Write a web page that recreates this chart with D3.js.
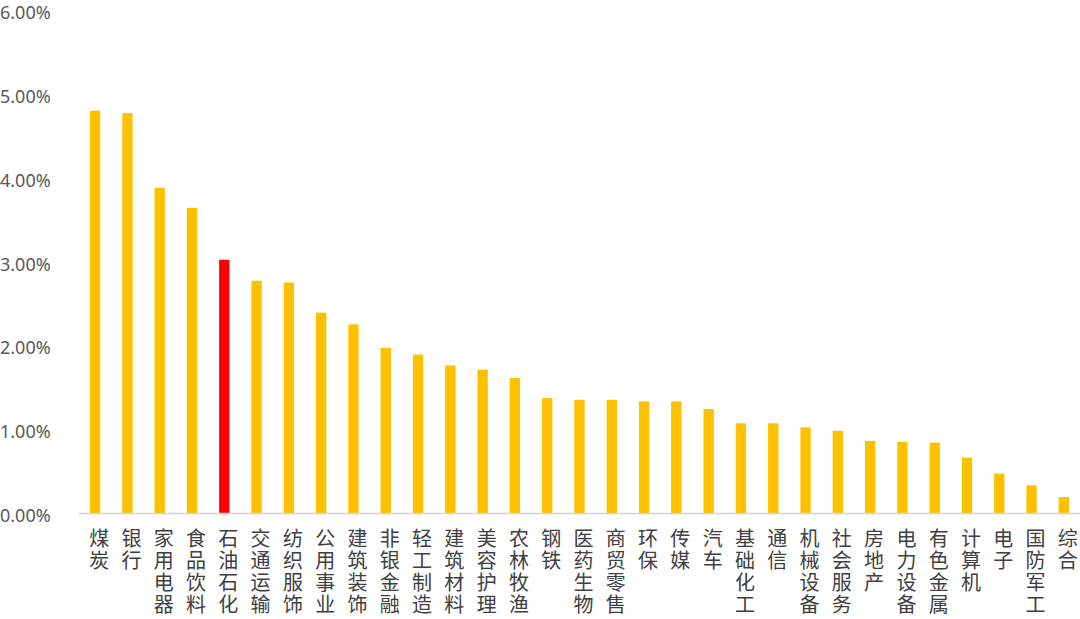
<!DOCTYPE html>
<html>
<head>
<meta charset="utf-8">
<script src="https://cdn.jsdelivr.net/npm/d3@7/dist/d3.min.js"></script>
<style>
  html, body { margin: 0; padding: 0; background: #fff; }
  svg { display: block; }
</style>
</head>
<body>
<svg class="chart"></svg>
<script>
var categories = ["煤炭","银行","家用电器","食品饮料","石油石化","交通运输","纺织服饰","公用事业","建筑装饰","非银金融",
    "轻工制造","建筑材料","美容护理","农林牧渔","钢铁","医药生物","商贸零售","环保","传媒","汽车",
    "基础化工","通信","机械设备","社会服务","房地产","电力设备","有色金属","计算机","电子","国防军工","综合"];
var values = [4.80, 4.77, 3.88, 3.64, 3.02, 2.77, 2.75, 2.39, 2.25, 1.97,
    1.89, 1.76, 1.71, 1.61, 1.37, 1.35, 1.35, 1.33, 1.33, 1.24,
    1.07, 1.07, 1.02, 0.98, 0.86, 0.85, 0.84, 0.66, 0.47, 0.33, 0.19];
var highlight = "石油石化";
var yTicks = [0, 1, 2, 3, 4, 5, 6];

var width = 1080, height = 619;
var data = categories.map(function (c, i) { return { name: c, value: values[i] }; });

var x = d3.scaleBand().domain(categories).range([79, 1080]).paddingInner(0.68).paddingOuter(0.34);
var y = d3.scaleLinear().domain([0, 6]).range([513, 10]);

var svg = d3.select(".chart")
    .attr("width", width)
    .attr("height", height);

// y labels
svg.append("g")
    .selectAll("text")
    .data(yTicks)
    .enter()
    .append("text")
    .attr("x", 0)
    .attr("y", function (d) { return y(d) + 2; })
    .attr("dominant-baseline", "central")
    .style("font-family", "'Noto Sans', 'Open Sans', sans-serif")
    .style("font-size", "18px")
    .style("fill", "#595959")
    .text(function (d) { return d.toFixed(2) + "%"; });

// bars
svg.append("g")
    .selectAll("rect")
    .data(data)
    .enter()
    .append("rect")
    .attr("x", function (d) { return x(d.name); })
    .attr("width", x.bandwidth())
    .attr("y", function (d) { return y(d.value); })
    .attr("height", function (d) { return y(0) - y(d.value); })
    .style("fill", function (d) { return d.name === highlight ? "#FF0000" : "#FFC000"; });

// axis line
svg.append("line")
    .attr("x1", 79).attr("x2", 1080)
    .attr("y1", y(0) + 0.5).attr("y2", y(0) + 0.5)
    .style("stroke", "#d4d4d4")
    .style("stroke-width", 1.5);

// vertical category labels
var lab = svg.append("g")
    .selectAll("text")
    .data(data)
    .enter()
    .append("text")
    .attr("x", function (d) { return x(d.name) + x.bandwidth() / 2 + 4; })
    .attr("y", 546)
    .attr("text-anchor", "middle")
    .style("font-family", "'Noto Sans CJK SC', sans-serif")
    .style("font-size", "20px")
    .style("fill", "#404040");

lab.selectAll("tspan")
    .data(function (d) { return d.name.split("").map(function (ch) { return { ch: ch, px: x(d.name) + x.bandwidth() / 2 + 4 }; }); })
    .enter()
    .append("tspan")
    .attr("x", function (t) { return t.px; })
    .attr("dy", function (t, i) { return i === 0 ? 0 : 22; })
    .text(function (t) { return t.ch; });
</script>
</body>
</html>
